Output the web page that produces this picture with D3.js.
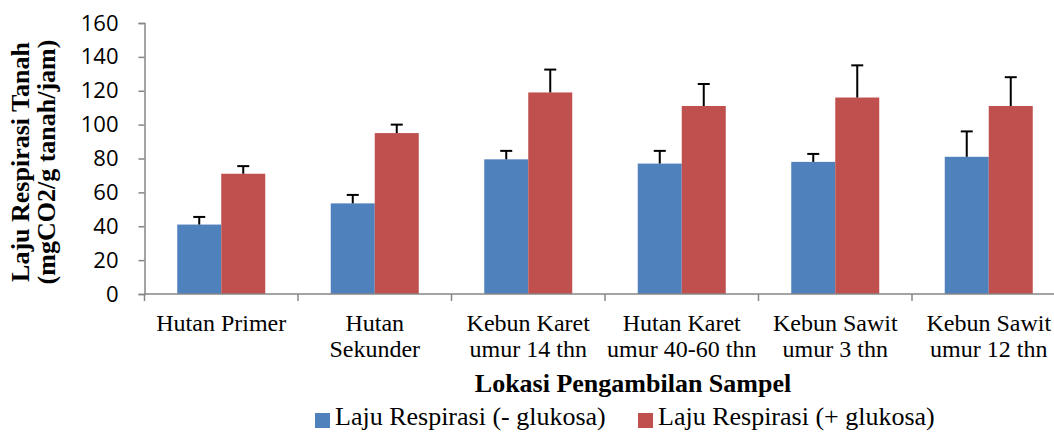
<!DOCTYPE html>
<html>
<head>
<meta charset="utf-8">
<script src="https://cdn.jsdelivr.net/npm/d3@7"></script>
<style>
  html, body { margin: 0; padding: 0; background: #fff; }
  svg { display: block; }
</style>
</head>
<body>
<svg id="chart" width="1054" height="432"></svg>
<script>
// Soil respiration rate per sampling location, without and with glucose
const categories = [
  ["Hutan Primer"],
  ["Hutan", "Sekunder"],
  ["Kebun Karet", "umur 14 thn"],
  ["Hutan Karet", "umur 40-60 thn"],
  ["Kebun Sawit", "umur 3 thn"],
  ["Kebun Sawit", "umur 12 thn"]
];
const seriesNames = ["Laju Respirasi (- glukosa)", "Laju Respirasi (+ glukosa)"];
const withoutGlucose = [41, 53.5, 79.5, 77, 78, 81];
const withoutGlucoseErr = [4.5, 5, 5, 7.5, 4.7, 15];
const withGlucose = [71, 95, 119, 111, 116, 111];
const withGlucoseErr = [4.5, 5, 13.5, 13, 19, 17];
const yTicks = [0, 20, 40, 60, 80, 100, 120, 140, 160];

const colors = ["#4F81BD", "#C0504D"];
const axisColor = "#868686";
const serif = "'Liberation Serif', 'Times New Roman', serif";

const svg = d3.select("#chart");
const x0 = 144.5, bandW = 153.5;
const x = d3.scaleBand()
  .domain(d3.range(categories.length))
  .range([x0, x0 + bandW * categories.length])
  .paddingInner(0).paddingOuter(0);
const y = d3.scaleLinear().domain([0, 160]).range([294, 23]);
const inner = d3.scaleBand().domain([0, 1]).range([32.75, bandW - 32.75]);

const values = [withoutGlucose, withGlucose];
const errs = [withoutGlucoseErr, withGlucoseErr];

// Bars
values.forEach((vals, s) => {
  svg.append("g").selectAll("rect")
    .data(vals)
    .join("rect")
    .attr("x", (d, i) => x(i) + inner(s))
    .attr("y", d => y(d))
    .attr("width", inner.bandwidth())
    .attr("height", d => y(0) - y(d))
    .attr("fill", colors[s]);
});

// Error bars (upper only)
values.forEach((vals, s) => {
  const g = svg.append("g").attr("stroke", "#000").attr("stroke-width", 2);
  vals.forEach((v, i) => {
    const cx = x(i) + inner(s) + inner.bandwidth() / 2;
    g.append("line").attr("x1", cx).attr("x2", cx)
      .attr("y1", y(v)).attr("y2", y(v + errs[s][i]));
    g.append("line").attr("x1", cx - 6).attr("x2", cx + 6)
      .attr("y1", y(v + errs[s][i])).attr("y2", y(v + errs[s][i]));
  });
});

// Y axis
const yAxis = svg.append("g").attr("transform", `translate(${x0},0)`)
  .call(d3.axisLeft(y).tickValues(yTicks).tickSize(6).tickPadding(20));
yAxis.select(".domain").attr("stroke", axisColor).attr("stroke-width", 1.5);
yAxis.selectAll(".tick line").attr("stroke", axisColor).attr("stroke-width", 1.5);
yAxis.selectAll(".tick text")
  .attr("fill", "#000")
  .style("font-family", "'Open Sans', sans-serif")
  .style("font-size", "22px");

// X axis line and ticks at category boundaries
const xBounds = d3.range(categories.length + 1).map(i => x0 + i * bandW);
svg.append("line")
  .attr("x1", x0).attr("x2", 1054)
  .attr("y1", y(0)).attr("y2", y(0))
  .attr("stroke", axisColor).attr("stroke-width", 1.5);
svg.append("g").selectAll("line")
  .data(xBounds)
  .join("line")
  .attr("x1", d => d).attr("x2", d => d)
  .attr("y1", y(0)).attr("y2", y(0) + 7)
  .attr("stroke", axisColor).attr("stroke-width", 1.5);

// Category labels
const catG = svg.append("g")
  .attr("font-family", serif)
  .attr("font-size", 24)
  .attr("text-anchor", "middle");
categories.forEach((lines, i) => {
  const t = catG.append("text")
    .attr("x", x(i) + bandW / 2)
    .attr("y", 331);
  lines.forEach((ln, k) => {
    t.append("tspan").attr("x", x(i) + bandW / 2).attr("dy", k === 0 ? 0 : 26).text(ln);
  });
});

// Axis titles
svg.append("text")
  .attr("x", 633).attr("y", 392)
  .attr("text-anchor", "middle")
  .attr("font-family", serif)
  .attr("font-weight", "bold")
  .attr("font-size", 26)
  .text("Lokasi Pengambilan Sampel");

const yTitle = svg.append("text")
  .attr("transform", "translate(29,162) rotate(-90)")
  .attr("text-anchor", "middle")
  .attr("font-family", serif)
  .attr("font-weight", "bold")
  .attr("font-size", 26);
yTitle.append("tspan").attr("x", 0).attr("y", 0).text("Laju Respirasi Tanah");
yTitle.append("tspan").attr("x", 0).attr("y", 26).text("(mgCO2/g tanah/jam)");

// Legend
const legendX = [315, 638];
const legend = svg.append("g");
seriesNames.forEach((name, s) => {
  legend.append("rect")
    .attr("x", legendX[s]).attr("y", 413)
    .attr("width", 15).attr("height", 15)
    .attr("fill", colors[s]);
  legend.append("text")
    .attr("x", legendX[s] + 20).attr("y", 425)
    .attr("font-family", serif)
    .attr("font-size", 26)
    .text(name);
});
</script>
</body>
</html>
